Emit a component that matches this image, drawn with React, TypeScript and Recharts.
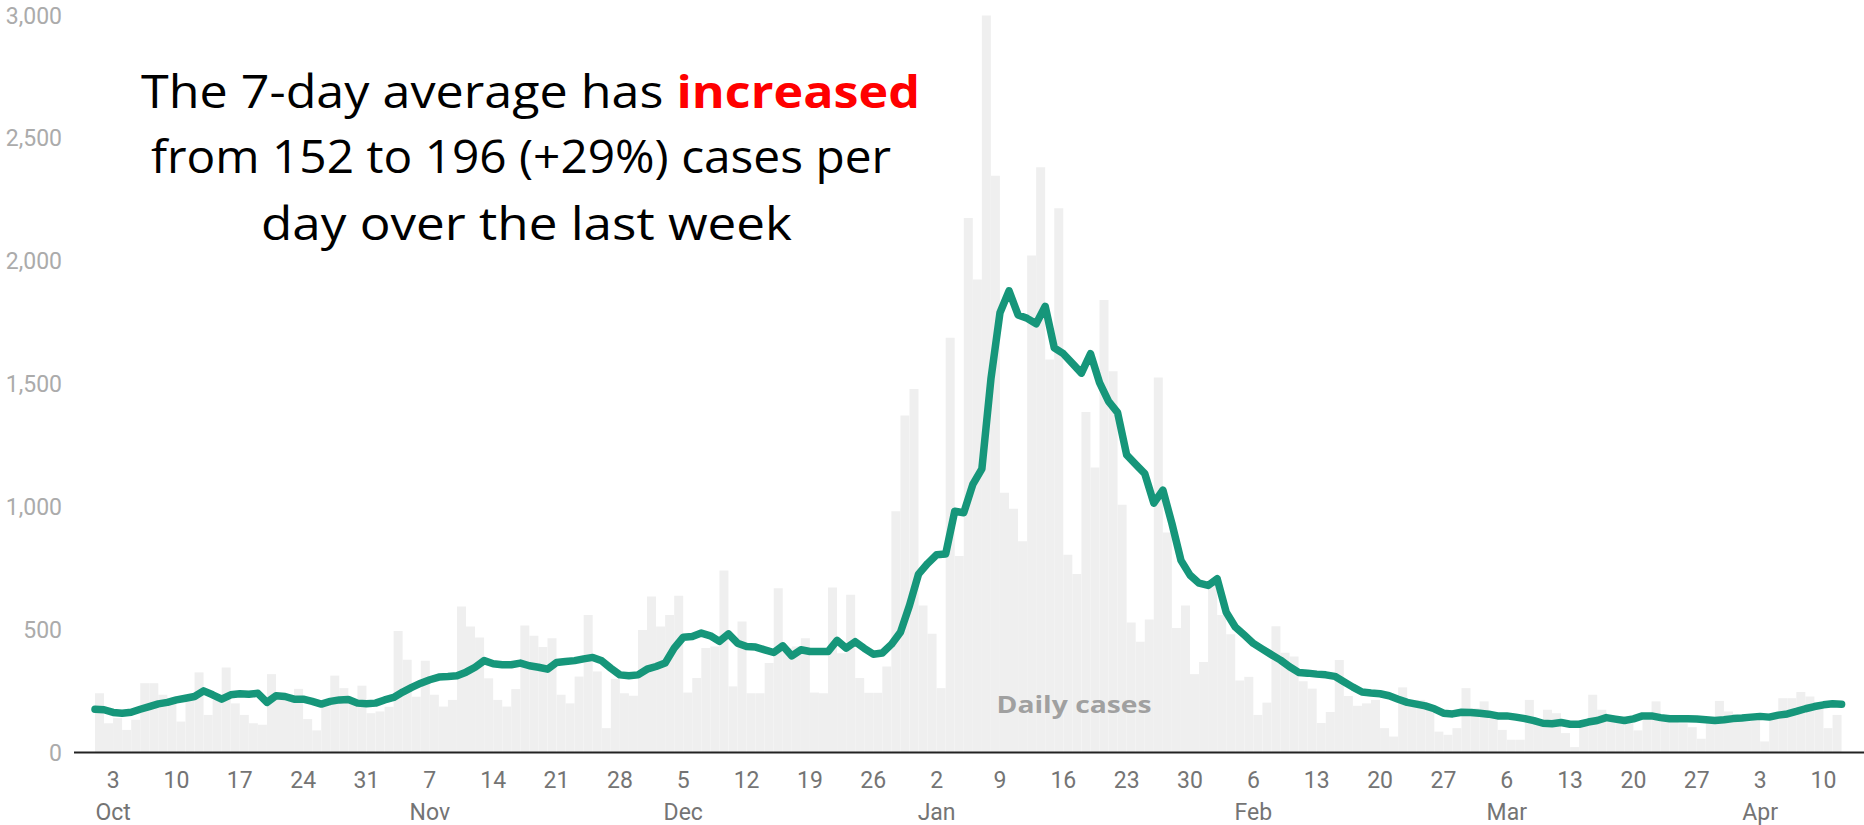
import React from "react";
import { ComposedChart, Bar, Line, XAxis, YAxis } from "recharts";

// daily cases, one per day from Oct 1 to Apr 11
const dailyCases = [
  241, 119, 140, 92, 133, 282, 282, 235, 200, 126,
  214, 326, 153, 214, 346, 200, 153, 119, 113, 319,
  228, 228, 259, 136, 90, 187, 313, 262, 210, 272,
  160, 167, 186, 495, 377, 227, 373, 235, 187, 214,
  594, 513, 468, 302, 214, 187, 258, 517, 475, 429,
  465, 235, 200, 309, 560, 330, 99, 300, 241, 231,
  499, 635, 513, 560, 638, 244, 303, 425, 431, 741,
  269, 533, 241, 241, 364, 669, 425, 431, 465, 244,
  241, 672, 404, 642, 303, 243, 243, 350, 982, 1372,
  1479, 598, 483, 262, 1688, 800, 2175, 1925, 3000, 2347,
  1057, 992, 860, 2023, 2382, 1600, 2215, 805, 726, 1386,
  1160, 1842, 1552, 1008, 529, 451, 541, 1526, 895, 507,
  598, 319, 368, 700, 560, 481, 293, 308, 153, 203,
  514, 406, 391, 290, 260, 120, 165, 376, 230, 190,
  200, 214, 99, 65, 265, 214, 214, 187, 85, 72,
  99, 262, 180, 208, 147, 92, 52, 52, 214, 126,
  174, 160, 79, 22, 113, 235, 174, 147, 133, 119,
  90, 133, 208, 153, 133, 119, 103, 56, 119, 210,
  167, 140, 126, 133, 45, 147, 221, 221, 246, 228,
  201, 99, 153,
];

// 7-day average, sampled at each day boundary (Oct 1 .. Apr 12)
const sevenDayAvg = [
  176, 174, 163, 160, 164, 176, 187, 198, 204, 214,
  221, 228, 251, 235, 217, 235, 239, 237, 241, 204,
  231, 228, 217, 217, 208, 197, 208, 214, 216, 201,
  198, 201, 214, 224, 246, 265, 282, 296, 307, 309,
  312, 327, 347, 374, 361, 357, 357, 364, 353, 347,
  339, 366, 370, 374, 381, 387, 373, 343, 316, 312,
  316, 339, 350, 364, 425, 469, 472, 486, 475, 452,
  483, 445, 431, 429, 418, 407, 434, 393, 418, 411,
  411, 411, 456, 425, 451, 424, 400, 405, 440, 489,
  598, 726, 769, 805, 808, 982, 976, 1091, 1154, 1520,
  1790, 1879, 1781, 1767, 1745, 1816, 1647, 1623, 1584, 1544,
  1623, 1505, 1429, 1383, 1211, 1173, 1135, 1015, 1068, 932,
  782, 722, 689, 680, 707, 571, 511, 478, 444, 421,
  398, 376, 349, 326, 323, 319, 316, 310, 288, 266,
  246, 242, 239, 231, 217, 204, 197, 190, 178, 160,
  157, 164, 163, 160, 156, 149, 149, 144, 138, 130,
  119, 117, 122, 115, 115, 124, 130, 142, 136, 130,
  137, 149, 149, 142, 137, 137, 137, 136, 133, 130,
  133, 138, 140, 144, 147, 144, 152, 157, 167, 178,
  187, 194, 198, 196,
];

// weekly ticks (day index from Oct 1)
const tickIndex = [2, 9, 16, 23, 30, 37, 44, 51, 58, 65, 72, 79, 86, 93, 100, 107, 114, 121, 128, 135, 142, 149, 156, 163, 170, 177, 184, 191];
const tickDay = ["3", "10", "17", "24", "31", "7", "14", "21", "28", "5", "12", "19", "26", "2", "9", "16", "23", "30", "6", "13", "20", "27", "6", "13", "20", "27", "3", "10"];
const tickMonth = ["Oct", "", "", "", "", "Nov", "", "", "", "Dec", "", "", "", "Jan", "", "", "", "", "Feb", "", "", "", "Mar", "", "", "", "Apr", ""];

const yTicks = [0, 500, 1000, 1500, 2000, 2500, 3000];

const chartData = sevenDayAvg.map((avg, k) => ({
  k,
  cases: k < dailyCases.length ? dailyCases[k] : null,
  avg,
}));

const DateTick = (props: any) => {
  const { x, y, payload } = props;
  const i = tickIndex.indexOf(payload.value);
  if (i < 0) return null;
  return (
    <g>
      <text x={x} y={y + 35.5} textAnchor="middle" fill="#747474" fontSize={23} fontFamily="Roboto">
        {tickDay[i]}
      </text>
      {tickMonth[i] && (
        <text x={x} y={y + 67.5} textAnchor="middle" fill="#747474" fontSize={23} fontFamily="Roboto">
          {tickMonth[i]}
        </text>
      )}
    </g>
  );
};

export default function App() {
  return (
    <div style={{ position: "absolute", left: 0, top: 0, width: 1864, height: 825, background: "#fff" }}>
      <ComposedChart
        width={1864}
        height={825}
        data={chartData}
        margin={{ top: 15.4, right: 0, bottom: 12.5, left: 0 }}
        barCategoryGap={0}
        barGap={0}
      >
        <XAxis
          xAxisId="line"
          dataKey="k"
          type="number"
          domain={[0, 193]}
          ticks={tickIndex}
          interval={0}
          padding={{ left: 21, right: 22.4 }}
          height={60}
          tickLine={false}
          tickSize={0}
          tickMargin={0}
          axisLine={{ stroke: "#222", strokeWidth: 2 }}
          tick={<DateTick />}
        />
        <XAxis xAxisId="bars" dataKey="k" hide height={0} padding={{ left: 21, right: 13.35 }} />
        <YAxis
          domain={[0, 3000]}
          ticks={yTicks}
          width={74}
          axisLine={false}
          tickLine={false}
          tickSize={0}
          tickMargin={12}
          tickFormatter={(v: number) => v.toLocaleString("en-US")}
          tick={{ fill: "#ababab", fontSize: 23, fontFamily: "Roboto" }}
        />
        <Bar xAxisId="bars" dataKey="cases" fill="#efefef" isAnimationActive={false} />
        <Line
          xAxisId="line"
          dataKey="avg"
          type="linear"
          stroke="#16967a"
          strokeWidth={7.5}
          strokeLinejoin="round"
          strokeLinecap="round"
          dot={false}
          activeDot={false}
          isAnimationActive={false}
        />
      </ComposedChart>
      <svg
        width={1864}
        height={825}
        style={{ position: "absolute", left: 0, top: 0, pointerEvents: "none" }}
      >
        <g fontFamily="'Open Sans'" fontSize={45} fill="#000" textAnchor="middle">
          <text x={530.5} y={107.7} textLength={779} lengthAdjust="spacingAndGlyphs">
            The 7-day average has <tspan fill="#ff0000" fontWeight="bold">increased</tspan>
          </text>
          <text x={521} y={173} textLength={740} lengthAdjust="spacingAndGlyphs">
            from 152 to 196 (+29%) cases per
          </text>
          <text x={526.5} y={240} textLength={531} lengthAdjust="spacingAndGlyphs">
            day over the last week
          </text>
        </g>
        <text
          x={1074}
          y={713}
          textAnchor="middle"
          fontFamily="'Open Sans'"
          fontWeight="bold"
          fontSize={24}
          fill="#a0a0a0"
          textLength={155}
          lengthAdjust="spacingAndGlyphs"
        >
          Daily cases
        </text>
      </svg>
    </div>
  );
}
